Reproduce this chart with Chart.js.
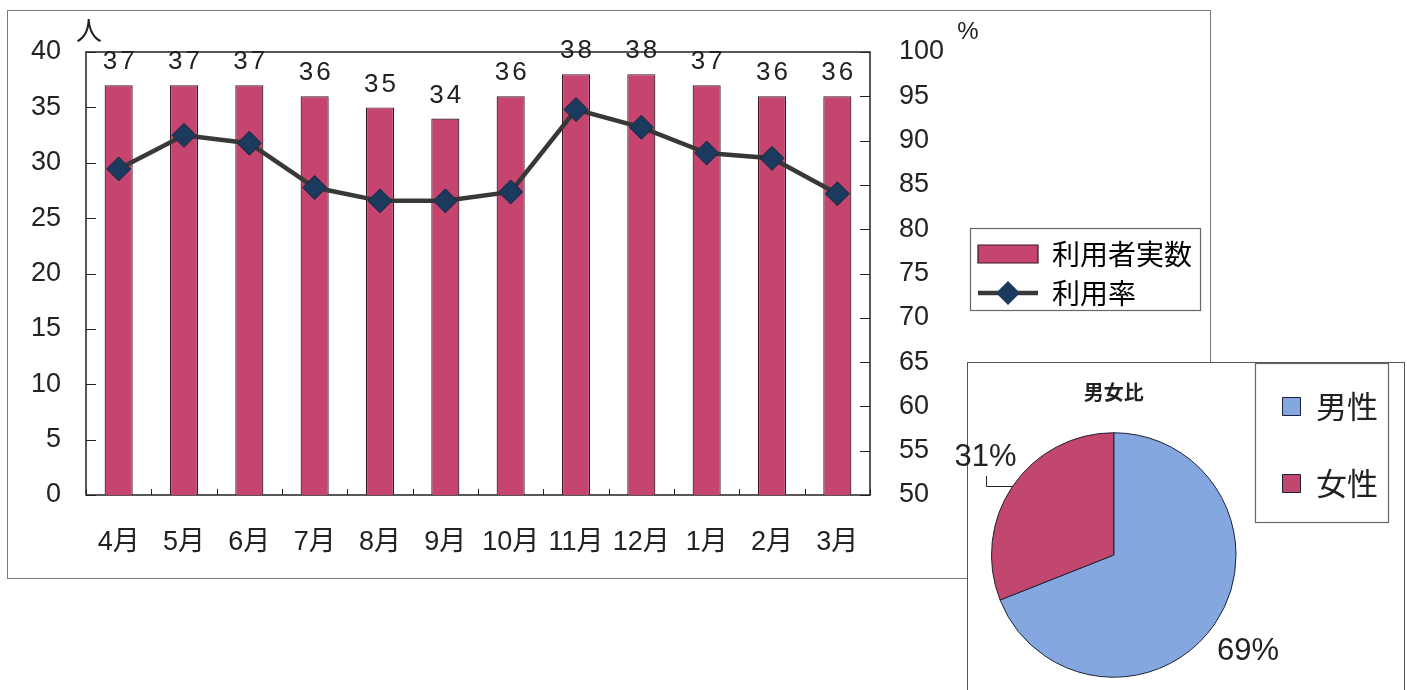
<!DOCTYPE html>
<html><head><meta charset="utf-8">
<script src="https://cdn.jsdelivr.net/npm/chart.js@4.4.1/dist/chart.umd.min.js"></script>
<style>
html,body{margin:0;padding:0;background:#fff;width:1407px;height:690px;overflow:hidden;}
#frame{position:absolute;left:7px;top:10px;width:1204px;height:569px;border:1.5px solid #7a7a7a;box-sizing:border-box;}
#c1{position:absolute;left:7px;top:10px;}
#panel{position:absolute;left:967px;top:362px;width:438px;height:340px;border:1.5px solid #555;background:#fff;box-sizing:border-box;}
#c2{position:absolute;left:940px;top:345px;z-index:2;}
</style></head><body>
<div id="frame"></div>
<canvas id="c1" width="1203" height="568"></canvas>
<div id="panel"></div>
<canvas id="c2" width="470" height="360"></canvas>
<script>
// ---- data ----
const months = ['4月','5月','6月','7月','8月','9月','10月','11月','12月','1月','2月','3月'];
const users = [37,37,37,36,35,34,36,38,38,37,36,36];
const usageRate = [86.8,90.6,89.7,84.7,83.2,83.2,84.2,93.5,91.5,88.6,88.0,84.0];
const seriesNames = ['利用者実数','利用率'];
const leftUnit = '人';
const rightUnit = '%';
const pieTitle = '男女比';
const genders = ['男性','女性'];
const genderShare = [69,31];

// ---- styles ----
const NUM = "'Liberation Sans Narrow','Liberation Sans','Noto Sans CJK JP',sans-serif";
const CJK = "'Noto Sans CJK JP','Liberation Sans',sans-serif";
const BAR = '#C6456F';
const BAR_EDGE = '#3a1624';
const LINE = '#383838';
const MARK = '#1C3A5E';
const INK = '#222';

const boxPlugin = {
  id:'boxPlugin',
  beforeDatasetsDraw(chart){
    const {ctx, chartArea:a, scales} = chart;
    ctx.save();
    ctx.strokeStyle = INK; ctx.lineWidth = 1;
    ctx.beginPath();
    scales.y.ticks.forEach(t=>{
      const py = Math.round(scales.y.getPixelForValue(t.value))+0.5;
      ctx.moveTo(a.left, py); ctx.lineTo(a.left+10, py);
    });
    scales.y1.ticks.forEach(t=>{
      const py = Math.round(scales.y1.getPixelForValue(t.value))+0.5;
      ctx.moveTo(a.right-10, py); ctx.lineTo(a.right, py);
    });
    for(let i=0;i<=months.length;i++){
      const px = Math.round(scales.x.getPixelForValue(i-0.5))+0.5;
      ctx.moveTo(px, a.bottom); ctx.lineTo(px, a.bottom-6);
    }
    ctx.stroke();
    ctx.lineWidth = 1.5;
    ctx.strokeRect(a.left, a.top, a.width, a.height);
    ctx.restore();
  },
  afterDatasetsDraw(chart){
    const {ctx, chartArea:a} = chart;
    ctx.save();
    ctx.fillStyle = INK;
    ctx.font = "26px " + NUM;
    ctx.textAlign = 'center'; ctx.textBaseline = 'middle';
    try { ctx.letterSpacing = '3px'; } catch(e){}
    chart.getDatasetMeta(0).data.forEach((el,i)=>{
      ctx.fillText(String(users[i]), el.x + 1.5, el.y - 23);
    });
    try { ctx.letterSpacing = '0px'; } catch(e){}
    ctx.font = "26px " + CJK;
    ctx.fillText(leftUnit, a.left + 3, a.top - 22);
    ctx.font = "24px " + NUM;
    ctx.fillText(rightUnit, a.right + 98, a.top - 20);
    ctx.restore();
  },
  afterDraw(chart){
    const lg = chart.legend; if(!lg || !lg.legendHitBoxes) return;
    const hb = lg.legendHitBoxes;
    const ctx = chart.ctx;
    ctx.save();
    const h = hb[1];
    const cy = h.top + h.height/2;
    ctx.strokeStyle = LINE; ctx.lineWidth = 4.5;
    ctx.beginPath(); ctx.moveTo(h.left, cy); ctx.lineTo(h.left+60, cy); ctx.stroke();
    ctx.fillStyle = MARK;
    ctx.beginPath();
    ctx.moveTo(h.left+30, cy-12); ctx.lineTo(h.left+42, cy); ctx.lineTo(h.left+30, cy+12); ctx.lineTo(h.left+18, cy); ctx.closePath();
    ctx.fill();
    const left = Math.min(...hb.map(b=>b.left)) - 8;
    const right = Math.max(...hb.map(b=>b.left+b.width)) + 8;
    const top = hb[0].top - 12;
    const bottom = hb[hb.length-1].top + hb[hb.length-1].height + 3;
    ctx.strokeStyle = '#666'; ctx.lineWidth = 1.2;
    ctx.strokeRect(Math.round(left)+0.5, Math.round(top)+0.5, Math.round(right-left), Math.round(bottom-top));
    ctx.restore();
  }
};

new Chart(document.getElementById('c1'), {
  data: {
    labels: months,
    datasets: [
      { type:'bar', label: seriesNames[0], data: users, yAxisID:'y',
        backgroundColor: BAR, borderColor: BAR_EDGE, borderWidth: 1.2,
        barPercentage: 0.43, categoryPercentage: 1, order: 1 },
      { type:'line', label: seriesNames[1], data: usageRate, yAxisID:'y1',
        borderColor: LINE, borderWidth: 4.5, tension: 0,
        pointStyle:'rectRot', pointRadius: 12, pointHoverRadius: 12,
        pointBackgroundColor: MARK, pointBorderColor: '#12263f', pointBorderWidth: 1, order: 0 }
    ]
  },
  options: {
    responsive:false, animation:false, events:[],
    layout: { padding: { left:0, right:8, top:42, bottom:0 } },
    plugins: {
      tooltip:{enabled:false},
      title:{display:false},
      legend: {
        position:'right', align:'center', fullSize:false, maxWidth:300,
        labels: {
          font:{ size:28, family:CJK }, color: INK,
          boxWidth:60, boxHeight:18, padding:11,
          generateLabels(){
            return [
              { text: seriesNames[0], fillStyle: BAR, strokeStyle: BAR_EDGE, lineWidth: 1.2, datasetIndex:0, hidden:false },
              { text: seriesNames[1], fillStyle: 'rgba(0,0,0,0)', strokeStyle: 'rgba(0,0,0,0)', lineWidth: 0, datasetIndex:1, hidden:false }
            ];
          }
        }
      }
    },
    scales: {
      x: {
        offset:true,
        grid:{display:false},
        border:{display:false},
        ticks:{ font:{size:27, family:NUM}, color:INK, padding:23, maxRotation:0, autoSkip:false },
        afterFit(s){ s.height = 83; }
      },
      y: {
        position:'left', min:0, max:40,
        grid:{display:false}, border:{display:false},
        ticks:{ stepSize:5, font:{size:27, family:NUM}, color:INK, padding:17 },
        afterFit(s){ s.width = 79; }
      },
      y1: {
        position:'right', min:50, max:100,
        grid:{display:false}, border:{display:false},
        ticks:{ stepSize:5, font:{size:27, family:NUM}, color:INK, padding:21 },
        afterFit(s){ s.width = 97; }
      }
    }
  },
  plugins:[boxPlugin]
});

// ---- pie ----
const pieLabelPlugin = {
  id:'pieLabelPlugin',
  afterDatasetsDraw(chart){
    const ctx = chart.ctx;
    ctx.save();
    ctx.fillStyle = INK; ctx.strokeStyle = '#222'; ctx.lineWidth = 1;
    ctx.font = "31px " + NUM;
    ctx.textAlign = 'center'; ctx.textBaseline = 'middle';
    const total = genderShare.reduce((s,v)=>s+v,0);
    chart.getDatasetMeta(0).data.forEach((el,i)=>{
      const {x,y,startAngle,endAngle,outerRadius} = el.getProps(['x','y','startAngle','endAngle','outerRadius'], true);
      const mid = (startAngle+endAngle)/2;
      const rr = outerRadius + 40;
      let lx = x + Math.cos(mid)*rr, ly = y + Math.sin(mid)*rr;
      if (Math.cos(mid) < 0) { lx += 6; ly -= 6; } else { ly += 5; }
      ctx.fillText(Math.round(genderShare[i]/total*100)+'%', lx, ly);
      if (Math.cos(mid) < 0) {
        const ax = x + Math.cos(mid)*outerRadius, ay = y + Math.sin(mid)*outerRadius;
        const vx = Math.round(lx) + 0.5;
        ctx.beginPath();
        ctx.moveTo(ax, Math.round(ay)+0.5);
        ctx.lineTo(vx, Math.round(ay)+0.5);
        ctx.lineTo(vx, Math.round(ly + 18));
        ctx.stroke();
      }
    });
    ctx.restore();
  },
  afterDraw(chart){
    const lg = chart.legend; if(!lg || !lg.legendHitBoxes) return;
    const hb = lg.legendHitBoxes;
    const ctx = chart.ctx;
    const left = Math.min(...hb.map(b=>b.left)) - 28;
    const right = Math.max(...hb.map(b=>b.left+b.width)) + 10;
    const top = hb[0].top - 28;
    const bottom = hb[hb.length-1].top + hb[hb.length-1].height/2 + 38;
    ctx.save();
    ctx.strokeStyle = '#666'; ctx.lineWidth = 1.2;
    ctx.strokeRect(Math.round(left)+0.5, Math.round(top)+0.5, Math.round(right-left), Math.round(bottom-top));
    ctx.restore();
  }
};

new Chart(document.getElementById('c2'), {
  type:'pie',
  data: {
    labels: genders,
    datasets: [{ data: genderShare, backgroundColor:['#84A7DF','#C1476F'], borderColor:'#1d2135', borderWidth:1 }]
  },
  options: {
    responsive:false, animation:false, events:[],
    layout:{ padding:{ left:51, right:22, top:0, bottom:27 } },
    plugins:{
      tooltip:{enabled:false},
      title:{ display:true, text: pieTitle, fullSize:false, color:INK,
        font:{ size:20, weight:'bold', family:CJK }, padding:{ top:35, bottom:28 } },
      legend:{
        position:'right', align:'start',
        labels:{ font:{ size:31, family:CJK }, color:INK, boxWidth:18, boxHeight:18, padding:46 }
      }
    }
  },
  plugins:[pieLabelPlugin]
});
</script>
</body></html>
